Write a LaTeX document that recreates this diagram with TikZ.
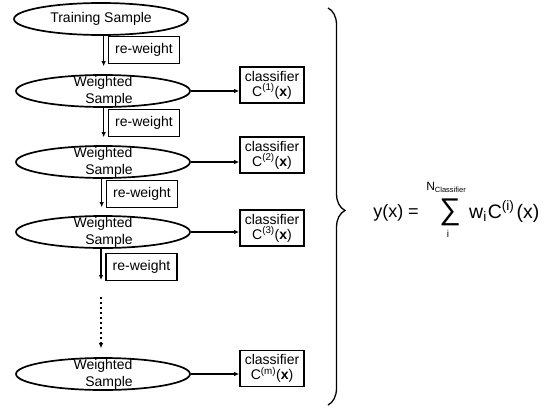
\documentclass[tikz,border=0pt]{standalone}
\usepackage{fontspec}
\setmainfont{Liberation Sans}
\usetikzlibrary{shapes.geometric,arrows.meta,decorations.pathreplacing,calc}

\begin{document}
\begin{tikzpicture}[x=1pt,y=-1pt,
  font=\fontsize{14}{17}\selectfont,
  sample/.style={ellipse,draw,line width=1.7pt,minimum width=174pt,minimum height=32pt,inner sep=0pt},
  sampletext/.style={align=center,inner sep=0pt,font=\fontsize{14}{17}\selectfont},
  rwbox/.style={draw,line width=1.7pt,minimum width=71pt,minimum height=27pt,inner sep=0pt},
  clbox/.style={draw,line width=1.7pt,minimum width=64pt,minimum height=36pt,inner sep=0pt,align=center,font=\fontsize{14}{15}\selectfont},
  flow/.style={-{Latex[length=5pt,width=4.5pt]},line width=1.3pt},
  dotflow/.style={flow,line width=1.5pt,dash pattern=on 1.6pt off 3.4pt}
]
\path[use as bounding box] (0,0) rectangle (545,407);

% samples on the left
\node[sample] (train) at (101,19) {Training Sample};
\node[sample] (w1) at (103,91) {};
\node[sample] (w2) at (103,162) {};
\node[sample] (w3) at (103,232) {};
\node[sample] (wm) at (103,374) {};
\foreach \s in {w1,w2,w3,wm}
  \node[sampletext] (\s t) at (\s) {Weighted\\\hspace*{12pt}Sample};

% re-weighting steps
\node[rwbox] (rw1) at (144,50) {re-weight};
\node[rwbox] (rw2) at (144,123) {re-weight};
\node[rwbox] (rw3) at (142,194) {re-weight};
\node[rwbox] (rw4) at (141.5,267) {re-weight};

\draw[flow] ($(train.south -| rw1.west)+(-4,0)$) -- ($(w1.north -| rw1.west)+(-4,-8)$);
\draw[flow] ($(w1.south -| rw2.west)+(-4,0)$) -- ($(w2.north -| rw2.west)+(-4,-8)$);
\draw[flow] ($(w2.south -| rw3.west)+(-4,0)$) -- ($(w3.north -| rw3.west)+(-4,-8)$);

\coordinate (g1) at (101,280);
\coordinate (g2) at (101,297);
\draw[flow] (w3.south -| g1) -- (g1);
\draw[dotflow] (g2) -- ($(wm.north -| g2)+(0,-9)$);

% classifiers
\node[clbox] (c1) at (272,85) {classifier\\C\textsuperscript{(1)}(\textbf{x})};
\node[clbox] (c2) at (272,155) {classifier\\C\textsuperscript{(2)}(\textbf{x})};
\node[clbox] (c3) at (272,228) {classifier\\C\textsuperscript{(3)}(\textbf{x})};
\node[clbox] (cm) at (272,368.5) {classifier\\C\textsuperscript{(m)}(\textbf{x})};

\foreach \s/\c in {w1/c1,w2/c2,w3/c3,wm/cm}
  \draw[flow] (\s.east) -- (\s.east -| \c.west);

% brace collecting all classifiers
\coordinate (bt) at (328,8);
\coordinate (bb) at (328,405);
\draw[line width=1.3pt,decorate,decoration={brace,amplitude=17pt,aspect=0.51}] (bt) -- (bb);

% combined output
\node[font=\fontsize{18}{20}\selectfont,anchor=base,inner sep=0pt] (lhs) at (396,217) {y(x) =};
\node[font=\fontsize{30}{32}\selectfont,inner sep=0pt] (sum) at (450,212.5) {∑};
\node[inner sep=0pt] (top) at (446,187.5) {\fontsize{12}{13}\selectfont N\raisebox{-2.5pt}{\fontsize{7.5}{8}\selectfont Classifier}};
\node[font=\fontsize{10}{11}\selectfont,inner sep=0pt] (low) at (448,234) {i};
\node[font=\fontsize{19.5}{20}\selectfont,anchor=base west,inner sep=0pt] (rhs) at (469,218) {w\textsubscript{i}\kern1pt C\textsuperscript{(i)}\kern2pt(x)};
\end{tikzpicture}
\end{document}
